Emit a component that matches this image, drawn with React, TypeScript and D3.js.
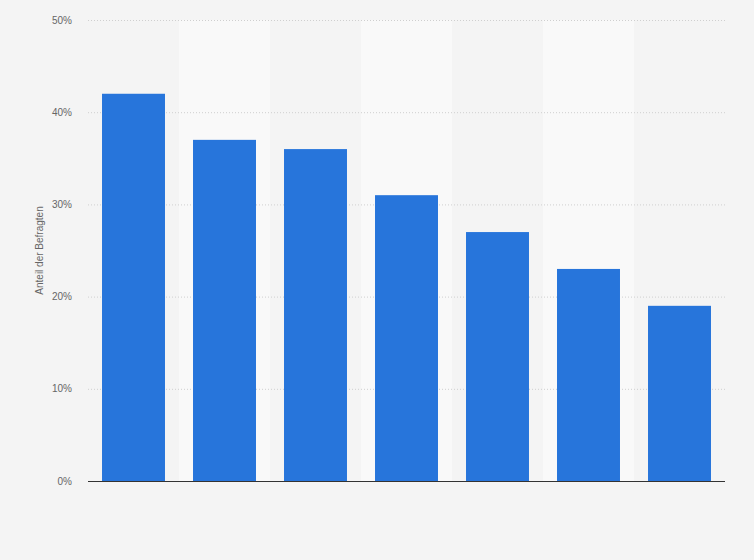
import React, { useEffect, useRef } from 'react';
import * as d3 from 'd3';

const categories = ['A', 'B', 'C', 'D', 'E', 'F', 'G'];
const values = [42, 37, 36, 31, 27, 23, 19];
const yTicks = [0, 10, 20, 30, 40, 50];
const yLabel = 'Anteil der Befragten';

const W = 754;
const H = 560;

export default function App() {
  const svgRef = useRef<SVGSVGElement>(null);

  useEffect(() => {
    document.body.style.margin = '0';
    if (!svgRef.current) return;
    const margin = { top: 20, right: 29, bottom: 79, left: 88 };
    const cw = W - margin.left - margin.right;
    const ch = H - margin.top - margin.bottom;

    const svg = d3.select(svgRef.current);
    svg.selectAll('*').remove();

    svg.append('rect').attr('width', W).attr('height', H).attr('fill', '#f4f4f4');

    const g = svg.append('g').attr('transform', `translate(${margin.left},${margin.top})`);

    const x = d3.scaleBand<string>().domain(categories).range([0, cw]).padding(0);
    const y = d3.scaleLinear().domain([0, 50]).range([ch, 0]);

    // alternating stripes
    g.selectAll('.stripe')
      .data(categories.filter((_, i) => i % 2 === 1))
      .enter()
      .append('rect')
      .attr('x', d => x(d) || 0)
      .attr('y', 0)
      .attr('width', x.bandwidth())
      .attr('height', ch)
      .attr('fill', '#f9f9f9');

    // grid lines
    g.selectAll('.grid')
      .data(yTicks.filter(t => t > 0))
      .enter()
      .append('line')
      .attr('x1', 0)
      .attr('x2', cw)
      .attr('y1', d => y(d) + 0.5)
      .attr('y2', d => y(d) + 0.5)
      .attr('stroke', '#cfcfcf')
      .attr('stroke-width', 1)
      .attr('stroke-dasharray', '1,2');

    // tick labels
    g.selectAll('.tick-label')
      .data(yTicks)
      .enter()
      .append('text')
      .attr('x', -16)
      .attr('y', d => y(d))
      .attr('dy', '0.35em')
      .attr('text-anchor', 'end')
      .attr('fill', '#666666')
      .style('font-family', 'Arial, "Liberation Sans", sans-serif')
      .style('font-size', '10px')
      .text(d => `${d}%`);

    // bars
    const inset = x.bandwidth() * 0.154;
    g.selectAll('.bar')
      .data(values)
      .enter()
      .append('rect')
      .attr('x', (_, i) => (x(categories[i]) || 0) + inset)
      .attr('width', x.bandwidth() - inset * 2)
      .attr('y', d => y(d))
      .attr('height', d => ch - y(d))
      .attr('fill', '#2775db');

    // baseline
    g.append('line')
      .attr('x1', 0)
      .attr('x2', cw)
      .attr('y1', ch + 0.5)
      .attr('y2', ch + 0.5)
      .attr('stroke', '#333333')
      .attr('stroke-width', 1.2);

    // y-axis label
    svg.append('text')
      .attr('transform', `translate(43,${margin.top + ch / 2}) rotate(-90)`)
      .attr('text-anchor', 'middle')
      .attr('fill', '#666666')
      .style('font-family', 'Arial, "Liberation Sans", sans-serif')
      .style('font-size', '10px')
      .text(yLabel);
  }, []);

  return (
    <div style={{ width: W, height: H }}>
      <svg ref={svgRef} width={W} height={H} style={{ display: 'block' }} />
    </div>
  );
}
